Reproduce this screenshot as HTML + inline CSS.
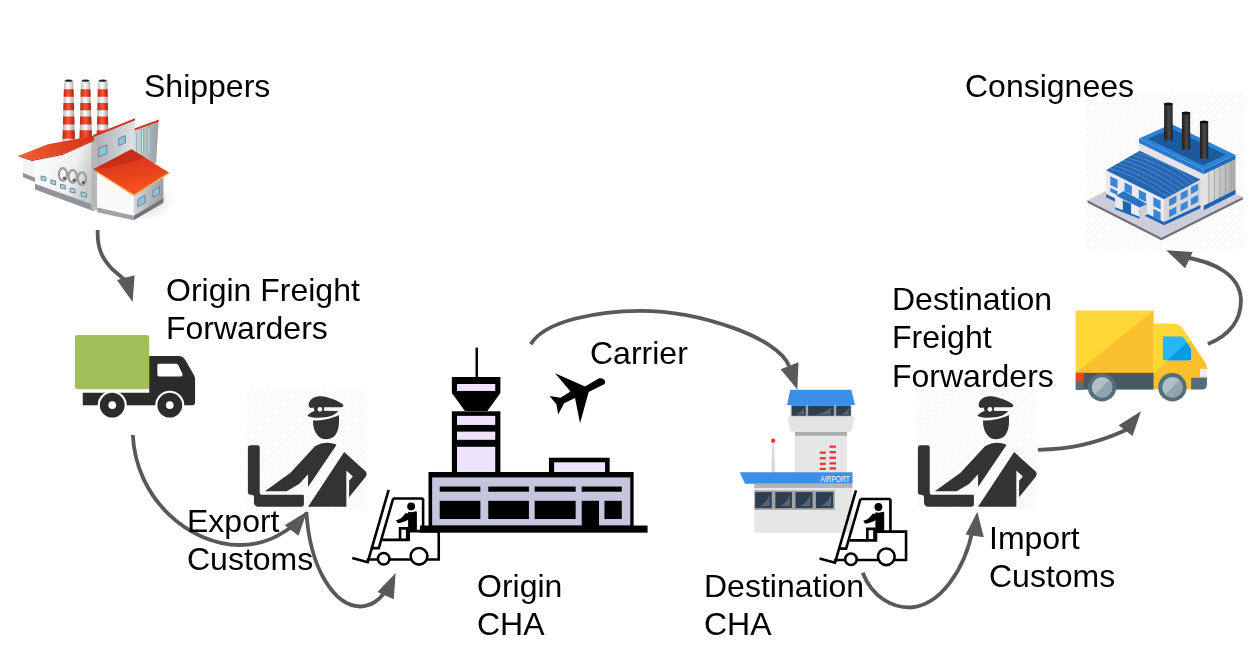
<!DOCTYPE html>
<html><head><meta charset="utf-8">
<style>
html,body{margin:0;padding:0;background:#fff;width:1255px;height:659px;overflow:hidden}
#art{position:absolute;left:0;top:0}
.t{position:absolute;will-change:transform;font-family:"Liberation Sans",sans-serif;font-size:32px;line-height:38.4px;color:#000;white-space:nowrap}
</style></head><body>
<svg id="art" width="1255" height="659" viewBox="0 0 1255 659">
<defs>
<pattern id="stripes" patternUnits="userSpaceOnUse" width="20" height="20" patternTransform="rotate(45)">
<rect width="20" height="20" fill="#ffffff"/><rect width="6" height="20" fill="#f4f4f4"/>
</pattern>
<pattern id="stripes2" patternUnits="userSpaceOnUse" width="16" height="16" patternTransform="rotate(45)">
<rect width="16" height="16" fill="#ffffff"/><rect width="5" height="16" fill="#f4f4f4"/>
</pattern>
</defs>
<g transform="translate(10,70) scale(0.24289)">
<defs>
<linearGradient id="f1roof" x1="0" y1="0" x2="0.3" y2="1"><stop offset="0" stop-color="#d02a18"/><stop offset="1" stop-color="#f5521e"/></linearGradient>
<linearGradient id="f1roofL" x1="0" y1="0" x2="1" y2="0"><stop offset="0" stop-color="#f06030"/><stop offset="1" stop-color="#d83018"/></linearGradient>
<linearGradient id="f1wall" x1="0" y1="0" x2="1" y2="0"><stop offset="0" stop-color="#a9adb1"/><stop offset="1" stop-color="#dfe1e3"/></linearGradient>
<linearGradient id="f1side" x1="0" y1="0" x2="1" y2="0"><stop offset="0" stop-color="#d4d6d8"/><stop offset="1" stop-color="#9a9ea2"/></linearGradient>
<linearGradient id="f1front" x1="0" y1="0" x2="1" y2="0.4"><stop offset="0" stop-color="#ffffff"/><stop offset="0.7" stop-color="#f0f0f0"/><stop offset="1" stop-color="#c9c9c9"/></linearGradient>
<radialGradient id="f1shadow" cx="0.3" cy="0.5" r="0.7"><stop offset="0" stop-color="#c8c8c8"/><stop offset="1" stop-color="#ffffff" stop-opacity="0"/></radialGradient>
</defs>
<polygon points="600,450 700,480 640,600 520,620" fill="url(#f1shadow)"/>
<g>
<defs><linearGradient id="cw" x1="0" x2="1"><stop offset="0" stop-color="#a8a8a8"/><stop offset="0.45" stop-color="#ffffff"/><stop offset="1" stop-color="#9a9a9a"/></linearGradient>
<linearGradient id="cr" x1="0" x2="1"><stop offset="0" stop-color="#c42414"/><stop offset="0.5" stop-color="#ff5535"/><stop offset="1" stop-color="#a81c10"/></linearGradient></defs>
<polygon points="222.8,41.7 260.3,41.7 267.3,297 215.8,297" fill="url(#cw)"/>
<polygon points="221.8,79.2 261.3,79.2 262.2,109.7 220.9,109.7" fill="url(#cr)"/>
<polygon points="220.2,135.5 262.9,135.5 263.7,165.9 219.4,165.9" fill="url(#cr)"/>
<polygon points="218.7,191.7 264.4,191.7 265.3,224.5 217.8,224.5" fill="url(#cr)"/>
<polygon points="217.1,248 266.0,248 266.9,283.1 216.2,283.1" fill="url(#cr)"/>
<ellipse cx="241.6" cy="43.7" rx="14.8" ry="5" fill="#222"/>
<polygon points="292.2,41.7 329.7,41.7 337.7,297 286,297" fill="url(#cw)"/>
<polygon points="291.3,79.2 330.9,79.2 331.8,109.7 290.5,109.7" fill="url(#cr)"/>
<polygon points="289.9,135.5 332.6,135.5 333.6,165.9 289.2,165.9" fill="url(#cr)"/>
<polygon points="288.6,191.7 334.4,191.7 335.4,224.5 287.8,224.5" fill="url(#cr)"/>
<polygon points="287.2,248 336.2,248 337.3,283.1 286.3,283.1" fill="url(#cr)"/>
<ellipse cx="310.9" cy="43.7" rx="14.8" ry="5" fill="#222"/>
<polygon points="362.5,41.7 401,41.7 405.6,297 356.4,297" fill="url(#cw)"/>
<polygon points="361.6,79.2 401.7,79.2 402.2,109.7 360.9,109.7" fill="url(#cr)"/>
<polygon points="360.3,135.5 402.7,135.5 403.2,165.9 359.5,165.9" fill="url(#cr)"/>
<polygon points="358.9,191.7 403.7,191.7 404.3,224.5 358.1,224.5" fill="url(#cr)"/>
<polygon points="357.6,248 404.7,248 405.3,283.1 356.7,283.1" fill="url(#cr)"/>
<ellipse cx="381.8" cy="43.7" rx="15.2" ry="5" fill="#222"/>
</g>
<polygon points="506.7,247.7 611.7,208.3 601.9,382.3 506.7,390" fill="url(#f1side)"/>
<g fill="#bfe6f2" stroke="#6c8c98" stroke-width="2"><rect x="513" y="260" width="8" height="100"/><rect x="542" y="245" width="8" height="108"/><rect x="568" y="236" width="8" height="112"/></g>
<polygon points="506.7,243 613,204 613,212 506.7,251" fill="#d62e1a"/>
<polygon points="342.5,273.9 513.2,205 513.2,340 342.5,412" fill="url(#f1wall)"/>
<polygon points="342.5,268 515,199 515,207 342.5,277" fill="#d62e1a"/>
<g fill="#8fc4da" stroke="#55707c" stroke-width="3"><polygon points="365.5,322 398.3,309 398.3,344 365.5,357"/><polygon points="447.6,281 475.2,270 475.2,300 447.6,312"/></g>
<polygon points="53,360.8 103,370.8 103,460.8 53,440.8" fill="#f4f4f4"/>
<polygon points="53,423.3 103,443.3 103,460.8 53,440.8" fill="#8f959b"/>
<polygon points="90.6,370.8 215.5,345.8 345.5,288.4 345.5,575 103,488 103,370.8" fill="url(#f1front)"/>
<polygon points="103,468 345.5,556 345.5,582 103,492" fill="#8f959b"/>
<polygon points="335,290 359,300 359,578 335,575" fill="#b4b8bc"/>
<path d="M35.6,353.3 L155.5,305.9 L345.5,270.9 L345.5,288.4 L215.5,345.8 L90.6,370.8 Z" fill="url(#f1roofL)"/>
<path d="M35.6,353.3 L90.6,370.8 L215.5,345.8 L345.5,288.4 L345.5,292 L215.5,350 L90.6,375 L35.6,356 Z" fill="#b82410"/>
<g fill="#9fd6ea" stroke="#4e6e7c" stroke-width="3"><polygon points="128,436 148,441 148,457 128,452"/><polygon points="168,452 188,457 188,473 168,468"/><polygon points="208,470 228,475 228,491 208,486"/><polygon points="248,486 268,491 268,507 248,502"/><polygon points="293,502 315,508 315,524 293,518"/></g>
<g fill="none" stroke="#909090" stroke-width="9"><ellipse cx="218" cy="430" rx="17" ry="26"/><ellipse cx="258" cy="438" rx="17" ry="26"/><ellipse cx="296" cy="447" rx="17" ry="26"/></g>
<g fill="none" stroke="#f0f0f0" stroke-width="3" stroke-dasharray="3 5"><ellipse cx="218" cy="430" rx="17" ry="26"/><ellipse cx="258" cy="438" rx="17" ry="26"/><ellipse cx="296" cy="447" rx="17" ry="26"/></g>
<g fill="#555"><circle cx="224" cy="446" r="6"/><circle cx="264" cy="454" r="6"/><circle cx="302" cy="463" r="6"/></g>
<polygon points="359,420 510,513.6 510,617 359,584" fill="#fafafa"/>
<polygon points="359,566 510,600 510,619 359,586" fill="#9ca2a8"/>
<polygon points="510,513.6 631.4,441.4 631.4,545 510,617" fill="url(#f1side)"/>
<polygon points="510,600 631.4,528 631.4,547 510,619" fill="#70767c"/>
<g fill="#8fc4da" stroke="#55707c" stroke-width="3"><polygon points="526.4,533 555.9,516 555.9,546 526.4,563"/><polygon points="588.8,496 615,481 615,509 588.8,524"/></g>
<polygon points="342.5,408.5 500.1,326.5 654.4,421.7 510,513.6" fill="url(#f1roof)"/>
<polygon points="342.5,408.5 500.1,326.5 560,362 420,400" fill="#b82614" opacity="0.45"/>
<polygon points="342.5,408.5 510,513.6 654.4,421.7 654.4,427 510,519 342.5,413" fill="#f7a040"/>
</g>

<g transform="translate(60,320) scale(0.18204)">
<rect x="82" y="83" width="408" height="297" rx="15" fill="#a2c05a"/>
<path d="M490,198 L650,198 C668,198 680,206 690,222 L734,300 C740,310 742,318 742,330 L742,452 C742,463 734,470 722,470 L125,470 L125,400 L490,400 Z" fill="#2b2b2b"/>
<path d="M543,240 L636,240 C643,240 647,243 650,248 L672,294 C675,302 672,310 664,310 L543,310 C538,310 535,306 535,300 L535,248 C535,243 538,240 543,240 Z" fill="#fff"/>
<circle cx="287" cy="468" r="80" fill="#fff"/>
<circle cx="603" cy="468" r="80" fill="#fff"/>
<rect x="100" y="470" width="660" height="80" fill="#fff"/>
<circle cx="287" cy="468" r="68" fill="#2b2b2b"/>
<circle cx="603" cy="468" r="68" fill="#2b2b2b"/>
<circle cx="287" cy="468" r="21" fill="#fff"/>
<circle cx="603" cy="468" r="21" fill="#fff"/>
</g>

<defs>
<g id="officer">
<rect x="35" y="25" width="605" height="610" fill="url(#stripes)"/>
<g fill="#333">
<path d="M348,100 C350,70 380,57 410,57 C450,60 500,80 523,100 C526,108 520,113 510,113 L400,113 C380,113 366,116 358,116 C350,113 347,107 348,100 Z"/>
<path d="M341,156 C352,142 368,134 381,130 L497,132 C485,150 460,160 430,164 C400,168 360,168 341,156 Z"/>
<polygon points="372,112 426,111 426,132 378,132"/>
<circle cx="405" cy="123" r="17"/>
<circle cx="405" cy="123" r="12" fill="#fff"/>
<path d="M370,180 C420,180 470,170 501,152 C505,200 500,240 475,262 C455,278 420,280 400,262 C378,240 370,215 370,180 Z"/>
<path d="M126,539 L237,539 L301,500 L345,453 L345,517 L489,304 C470,290 420,285 380,310 L256,445 Z"/>
<path d="M528,340 L636,437 C644,445 644,458 636,466 L553,569 L553,486 L572,464 L539,434 L539,617 L345,617 Z"/>
<path d="M52,305 L90,305 C96,305 100,309 100,315 L100,545 C100,552 104,556 110,556 L318,556 C322,556 324,559 324,562 L324,605 C324,612 318,617 311,617 L92,617 C80,617 71,608 71,597 L71,570 C71,563 66,556 58,556 L52,556 C45,556 40,551 40,545 L40,317 C40,310 45,305 52,305 Z"/>
</g>
</g>
</defs>
<use href="#officer" transform="translate(240,385) scale(0.19727)"/>
<use href="#officer" transform="translate(910,385) scale(0.19727)"/>

<g transform="translate(730,380) scale(0.24263)">
<rect x="100" y="445" width="405" height="185" fill="#e6e6e6"/>
<rect x="268" y="230" width="214" height="152" fill="#e6e6e6"/>
<rect x="268" y="213" width="214" height="17" fill="#acacac"/>
<polygon points="235,150 515,150 500,213 250,213" fill="#e4e4e4"/>
<rect x="250" y="103" width="250" height="47" fill="#9ea6ad"/>
<g fill="#2c3e50"><rect x="255" y="106" width="57" height="41"/><rect x="322" y="106" width="106" height="41"/><rect x="438" y="106" width="59" height="41"/></g>
<polygon points="248,40 500,40 515,103 235,103" fill="#3d8fe6"/>
<g fill="#e8322e">
<rect x="370" y="295" width="25" height="9"/><rect x="370" y="318" width="25" height="9"/><rect x="370" y="341" width="25" height="9"/><rect x="370" y="362" width="25" height="9"/>
<rect x="410" y="270" width="27" height="9"/><rect x="410" y="293" width="27" height="9"/><rect x="410" y="316" width="27" height="9"/><rect x="410" y="339" width="27" height="9"/><rect x="410" y="360" width="27" height="9"/>
</g>
<polygon points="175,255 181,255 186,382 170,382" fill="#d8d8d8"/>
<circle cx="178" cy="250" r="9" fill="#e53935"/>
<polygon points="40,380 505,380 505,428 62,428" fill="#3d8fe6"/>
<text x="372" y="420" font-family="Liberation Sans" font-size="36" fill="#fff" textLength="122" lengthAdjust="spacingAndGlyphs">AIRPORT</text>
<rect x="100" y="428" width="405" height="17" fill="#b3b3b3"/>
<rect x="100" y="455" width="332" height="80" fill="#a3a3a3"/>
<g fill="#2c3e50"><rect x="104" y="462" width="68" height="66"/><rect x="187" y="462" width="68" height="66"/><rect x="270" y="462" width="70" height="66"/><rect x="354" y="462" width="71" height="66"/></g>
<path d="M305.2,112.2 L305.2,142.1 L269.2,142.1 Q294.9,134.7 305.2,112.2 Z" fill="#556678"/>
<path d="M415.3,112.2 L415.3,142.1 L348.5,142.1 Q396.2,134.7 415.3,112.2 Z" fill="#556678"/>
<path d="M489.9,112.2 L489.9,142.1 L452.8,142.1 Q479.3,134.7 489.9,112.2 Z" fill="#556678"/>
<path d="M163.8,471.9 L163.8,520.1 L121.0,520.1 Q151.6,508.2 163.8,471.9 Z" fill="#556678"/>
<path d="M246.8,471.9 L246.8,520.1 L204.0,520.1 Q234.6,508.2 246.8,471.9 Z" fill="#556678"/>
<path d="M331.6,471.9 L331.6,520.1 L287.5,520.1 Q319.0,508.2 331.6,471.9 Z" fill="#556678"/>
<path d="M416.5,471.9 L416.5,520.1 L371.8,520.1 Q403.7,508.2 416.5,471.9 Z" fill="#556678"/>
</g>

<defs>
<g id="fork">
<g fill="none" stroke="#000" stroke-width="17" stroke-linejoin="miter">
<path d="M270,68 L132,545 L30,517"/>
<path d="M300,125 L205,452 L160,452"/>
<path d="M300,125 L490,125 L497,132 L497,340"/>
<path d="M228,398 L402,398 L402,340 L600,340 L600,527 L125,527"/>
<path d="M345,398 L345,322 L392,322 L392,398"/>
</g>
<g fill="#fff" stroke="#000" stroke-width="17">
<circle cx="237" cy="522" r="38"/>
<circle cx="470" cy="506" r="55"/>
</g>
<g fill="#000">
<circle cx="418" cy="178" r="26"/>
<path d="M398,212 C405,212 412,216 420,216 C430,216 440,212 452,210 L456,214 L456,336 L398,336 Z"/>
<path d="M318,268 C340,265 362,250 380,222 L402,222 L402,262 C385,275 355,285 330,288 Z"/>
</g>
</g>
</defs>
<use href="#fork" transform="translate(347.7,479.5) scale(0.15175)"/>
<use href="#fork" transform="translate(815,480) scale(0.15175)"/>

<g transform="translate(420,340) scale(0.30341)">
<rect x="183" y="25" width="8" height="100" fill="#000"/>
<path d="M105,122 L265,122 L265,175 L222,234 L148,234 L105,175 Z" fill="#000"/>
<rect x="122" y="145" width="126" height="23" fill="#ece4fc"/>
<rect x="105" y="235" width="160" height="210" fill="#000"/>
<rect x="122" y="250" width="126" height="30" fill="#ece4fc"/>
<rect x="122" y="302" width="126" height="27" fill="#ece4fc"/>
<rect x="122" y="352" width="126" height="84" fill="#ece4fc"/>
<rect x="425" y="388" width="200" height="57" fill="#000"/>
<rect x="442" y="403" width="168" height="35" fill="#ece4fc"/>
<rect x="28" y="435" width="676" height="185" fill="#000"/>
<rect x="40" y="453" width="653" height="159" fill="#c6c5de"/>
<g fill="#000">
<rect x="65" y="483" width="134" height="17"/><rect x="225" y="483" width="134" height="17"/>
<rect x="378" y="483" width="135" height="17"/><rect x="533" y="483" width="132" height="17"/>
<rect x="65" y="530" width="134" height="60"/><rect x="225" y="530" width="134" height="60"/>
<rect x="378" y="530" width="135" height="60"/><rect x="608" y="530" width="57" height="60"/>
<rect x="533" y="530" width="57" height="85"/>
<rect x="0" y="611.5" width="750" height="23.5"/>
</g>
</g>

<g transform="translate(545,365) scale(0.091027)">
<path d="M585,150 C640,130 675,175 655,208 L480,297 L385,640 L330,362 L210,420 L145,545 L125,430 L50,340 L170,360 L280,292 L110,90 L440,235 Z" fill="#000"/>
</g>

<g transform="translate(1060,290) scale(0.19722)">
<rect x="80" y="105" width="395" height="316" fill="#fbc02d"/>
<polygon points="80,105 475,105 80,420" fill="#fdd835"/>
<defs><clipPath id="cabclip"><path d="M474,170 L565,170 C590,170 610,180 625,200 L735,365 C742,375 745,385 745,395 L745,470 C745,490 730,505 710,505 L474,505 Z"/></clipPath></defs>
<g clip-path="url(#cabclip)"><rect x="470" y="160" width="290" height="350" fill="#fbc02d"/><polygon points="470,160 760,160 760,172 470,425" fill="#fdd835"/></g>
<defs><clipPath id="winclip"><path d="M528,235 L612,235 C620,235 625,240 630,245 L665,300 L665,347 C665,352 660,357 652,357 L528,357 C522,357 520,352 520,347 L520,243 C520,238 523,235 528,235 Z"/></clipPath></defs>
<g clip-path="url(#winclip)"><rect x="510" y="225" width="170" height="140" fill="#29b6f6"/><polygon points="530,370 680,232 680,370" fill="#039be5"/></g>

<rect x="80" y="420" width="395" height="85" fill="#455a64"/>
<rect x="80" y="420" width="40" height="45" fill="#e64a19"/>
<rect x="80" y="465" width="40" height="40" fill="#546e7a"/>
<path d="M665,445 L745,445 L745,480 C745,495 735,505 720,505 L665,505 Z" fill="#546e7a"/>
<rect x="710" y="400" width="35" height="40" fill="#eceff1"/>
<g>
<circle cx="213" cy="493" r="72" fill="#546e7a"/><circle cx="213" cy="493" r="52" fill="#b0bec5"/>
<path d="M250,456 A52,52 0 0 1 176,530 Z" fill="#90a4ae"/>
<circle cx="570" cy="493" r="72" fill="#546e7a"/><circle cx="570" cy="493" r="52" fill="#b0bec5"/>
<path d="M607,456 A52,52 0 0 1 533,530 Z" fill="#90a4ae"/>
</g>
</g>

<g transform="translate(1080,90) scale(0.25038)">
<rect x="26" y="16" width="629" height="621" fill="url(#stripes2)"/>
<polygon points="30,440 355,278 650,427 325,590" fill="#cdcdda"/>
<polygon points="30,440 325,590 650,427 650,437 325,600 30,450" fill="#6e6e7a"/>
<defs>
<linearGradient id="rib" x1="0" x2="1" y1="0" y2="0"><stop offset="0" stop-color="#e6e6e6"/><stop offset="1" stop-color="#a9a9a9"/></linearGradient>
<linearGradient id="chim" x1="0" x2="1" y1="0" y2="0"><stop offset="0" stop-color="#1c1c1c"/><stop offset="0.6" stop-color="#4a4a4a"/><stop offset="1" stop-color="#1c1c1c"/></linearGradient>
</defs>
<polygon points="236,212 494,336 494,480 236,356" fill="#e4e4e6"/>
<polygon points="494,336 621,277 621,415 494,480" fill="url(#rib)"/>
<g stroke="#9a9a9a" stroke-width="3">
<line x1="515" y1="326" x2="515" y2="470"/><line x1="537" y1="316" x2="537" y2="460"/><line x1="559" y1="306" x2="559" y2="449"/><line x1="581" y1="296" x2="581" y2="438"/><line x1="603" y1="286" x2="603" y2="427"/>
</g>
<polygon points="494,462 621,398 621,415 494,480" fill="#1d65b5"/>
<polygon points="236,194 494,318 494,336 236,212" fill="#2a7bd0"/>
<polygon points="494,318 621,260 621,277 494,336" fill="#1f6cc0"/>
<polygon points="236,194 365,136 621,260 494,318" fill="#2d82d6"/>
<polygon points="272,196 365,154 582,259 490,301" fill="#1b5a9c"/>
<g>
<rect x="336" y="53" width="34" height="149" fill="url(#chim)"/><ellipse cx="353" cy="56" rx="17" ry="6" fill="#111"/>
<rect x="407" y="89" width="33" height="149" fill="url(#chim)"/><ellipse cx="423.5" cy="92" rx="16.5" ry="6" fill="#111"/>
<rect x="479" y="125" width="33" height="149" fill="url(#chim)"/><ellipse cx="495.5" cy="128" rx="16.5" ry="6" fill="#111"/>
</g>
<polygon points="104,321 336,436 336,537 104,425" fill="#e9e9ef"/>
<polygon points="336,436 481,357 481,469 336,537" fill="#d4d4dc"/>
<polygon points="104,321 238,243 481,357 336,436" fill="#2466b2"/>
<g stroke="#7fb8ee" stroke-width="2.5" opacity="0.7" fill="none">
<path d="M118,313 C190,330 280,380 350,428"/><path d="M136,302 C210,322 300,370 368,418"/><path d="M154,292 C230,312 320,360 386,408"/><path d="M172,281 C250,302 340,350 404,398"/><path d="M190,271 C270,292 360,340 422,388"/><path d="M208,260 C290,282 380,330 440,378"/><path d="M226,250 C310,272 400,320 458,368"/>
</g>
<polygon points="104,415 336,527 336,540 104,428" fill="#1d65b5"/>
<polygon points="336,527 481,459 481,472 336,540" fill="#1d65b5"/>
<g fill="#3a86d4">
<polygon points="121,344 150,358 150,393 121,379"/><polygon points="178,369 207,383 207,418 178,404"/><polygon points="235,398 264,412 264,447 235,433"/><polygon points="293,428 322,442 322,477 293,463"/>
<polygon points="121,390 150,404 150,420 121,406"/><polygon points="293,474 322,488 322,523 293,509"/>
<polygon points="356,436 385,421 385,449 356,464"/><polygon points="402,412 430,397 430,425 402,440"/><polygon points="443,388 472,373 472,401 443,416"/>
<polygon points="356,480 385,465 385,493 356,508"/><polygon points="402,457 430,442 430,470 402,485"/><polygon points="443,433 472,418 472,446 443,461"/>
</g>
<polygon points="140,428 238,469 238,512 140,474" fill="#e9e9ef"/>
<polygon points="238,469 268,455 268,498 238,512" fill="#cfcfd8"/>
<polygon points="145,422 175,403 268,455 238,469" fill="#2a72c4"/>
<polygon points="171,440 204,454 204,497 171,483" fill="#1d65b5"/>
<polygon points="140,468 238,506 238,514 140,476" fill="#1d65b5"/>
</g>

<g fill="none" stroke="#595959" stroke-width="3.8" stroke-linecap="butt">
<path d="M97.7,230 C97,250 103,259 112,269 L126,281"/>
<path d="M132.8,435 C136,500 190,545 240,545 C265,545 280,535 293,526"/>
<path d="M306.4,512 C310,570 335,606 360,606.5 C372,606 380,600 386,590"/>
<path d="M530.8,344.2 C545,320 600,311 640,310.8 C700,310.8 779,338 789,366"/>
<path d="M862.7,572.8 C872,597 892,607.5 910,607.5 C940,606 965,570 973,528"/>
<path d="M1037.9,449.8 C1070,449 1095,444 1126,430"/>
<path d="M1207.9,344.1 C1230,335 1241,320 1241,300 C1240,275 1215,262 1184,257"/>
</g>
<g fill="#595959">
<polygon points="116.9,280 134.6,275.3 132.6,301.9"/>
<polygon points="284.7,525.2 307,511.4 298.5,535.8"/>
<polygon points="377.4,592 395.6,572.9 393.8,599.3"/>
<polygon points="780.6,369.3 798.5,362.2 797.3,389.6"/>
<polygon points="965.6,534.6 977.4,511.8 983.8,537.3"/>
<polygon points="1118.6,425.2 1141,411.2 1132.5,436.1"/>
<polygon points="1166.1,250.2 1192.7,252.1 1185.1,268.2"/>
</g>

</svg>
<div class="t" style="left:144px;top:66.7px">Shippers</div>
<div class="t" style="left:166.4px;top:270.8px">Origin Freight<br>Forwarders</div>
<div class="t" style="left:186.5px;top:501.6px">Export<br>Customs</div>
<div class="t" style="left:590px;top:334.3px">Carrier</div>
<div class="t" style="left:476.5px;top:567px">Origin<br>CHA</div>
<div class="t" style="left:704px;top:567.4px">Destination<br>CHA</div>
<div class="t" style="left:988.5px;top:518.6px">Import<br>Customs</div>
<div class="t" style="left:892px;top:279.5px">Destination<br>Freight<br>Forwarders</div>
<div class="t" style="left:965px;top:66.6px">Consignees</div>
</body></html>
